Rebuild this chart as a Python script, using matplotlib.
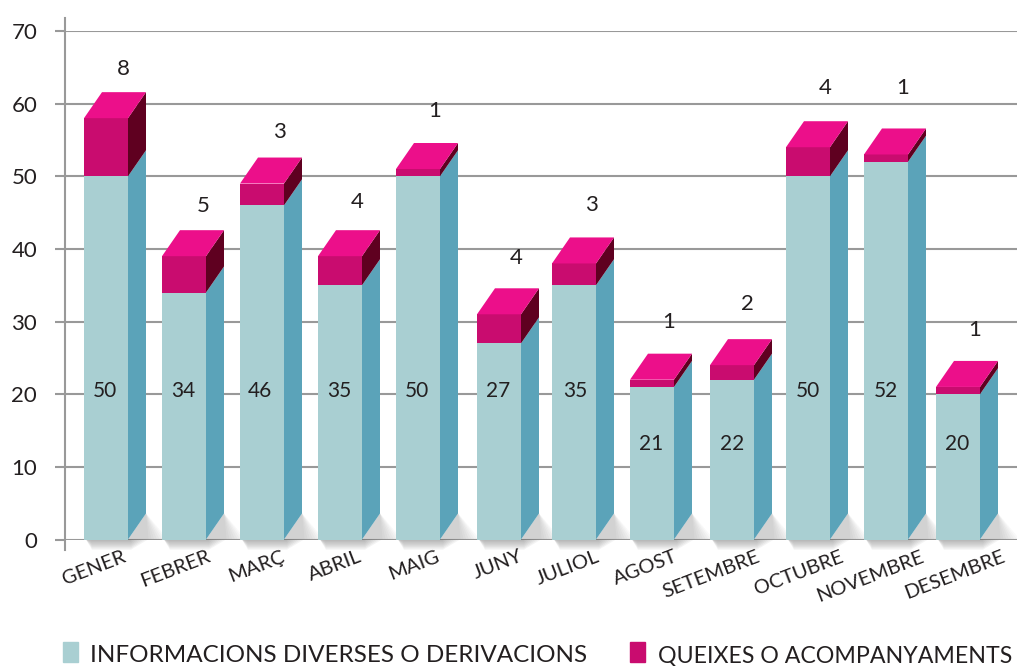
"""Monthly stacked 3D-look columns: informacions vs queixes."""

import matplotlib

matplotlib.use("Agg")

import matplotlib.pyplot as plt
from matplotlib.patches import Rectangle

months = ["GENER", "FEBRER", "MARÇ", "ABRIL", "MAIG", "JUNY", "JULIOL", "AGOST",
          "SETEMBRE", "OCTUBRE", "NOVEMBRE", "DESEMBRE"]
info = [50, 34, 46, 35, 50, 27, 35, 21, 22, 50, 52, 20]
queixes = [8, 5, 3, 4, 1, 4, 3, 1, 2, 4, 1, 1]
legend_labels = ["INFORMACIONS DIVERSES O DERIVACIONS", "QUEIXES O ACOMPANYAMENTS"]
y_ticks = [0, 10, 20, 30, 40, 50, 60, 70]

# layout, x in image pixels
bar_left = [84, 162, 240, 318, 396, 477, 552, 630, 710, 786, 864, 936]
month_x = [94, 175, 257, 335, 414, 498, 568, 645, 711, 799, 870, 955]
info_label_x = [105, 183, 260, 339, 417, 498, 575, 651, 732, 808, 886, 957]
info_label_y = [20.4, 20.4, 20.4, 20.4, 20.4, 20.4, 20.4, 13.2, 13.2, 20.4, 20.4, 13.2]
queixes_label_x = [123, 203, 279, 357, 435, 516, 591, 669, 747, 825, 903, 975]
queixes_label_y = [64.8, 45.9, 56.1, 46.4, 59.0, 38.7, 46.1, 30.0, 32.4, 62.2, 62.2, 28.8]

BAR_W = 44
DEPTH_X = 18
DEPTH_Y = 26 / 7.26

TEAL = "#a9cfd2"
TEAL_SIDE = "#5ba3b9"
PINK = "#c90c6f"
PINK_TOP = "#ec0f8a"
PINK_SIDE = "#5f0020"
INK = "#231f20"
GRID = "#999999"

plt.rcParams["font.family"] = ["Lato", "DejaVu Sans"]

fig = plt.figure(figsize=(10.17, 6.66), dpi=100)
ax = fig.add_axes([65 / 1017, (666 - 539.5) / 666, (1017 - 65) / 1017, 508.5 / 666])
ax.set_xlim(65, 1017)
ax.set_ylim(0, 70)
for side in ["top", "right", "left", "bottom"]:
    ax.spines[side].set_visible(False)

ax.set_yticks(y_ticks)
ax.grid(axis="y", color=GRID, lw=1.5, zorder=0)
ax.set_axisbelow(True)
ax.tick_params(axis="y", length=7, width=1.5, color=GRID, labelsize=16, labelcolor=INK, pad=13)
ax.set_xticks(month_x, months, rotation=21, ha="center", va="top")
ax.tick_params(axis="x", length=0, labelsize=14.6, labelcolor=INK, pad=6)
ax.plot([65, 65], [-1.5, 71.8], color=GRID, lw=1.5, clip_on=False, zorder=1)

for left, a, b, xl, yl, xq, yq in zip(bar_left, info, queixes, info_label_x, info_label_y,
                                      queixes_label_x, queixes_label_y):
    right = left + BAR_W
    total = a + b
    # soft floor shadows
    for k in range(8):
        f = (k + 1) / 8
        ax.fill([right, right + DEPTH_X, right + DEPTH_X + 22 * f],
                [0, DEPTH_Y, 0], color="#666666", alpha=0.04, lw=0, zorder=1.5)
        ax.fill([left + 2, right + 20 * f, right + 3, left + 8],
                [0, 0, -1.4 * f, -1.4 * f], color="#666666", alpha=0.07, lw=0,
                zorder=1.5, clip_on=False)
    ax.bar(left, a, width=BAR_W, align="edge", color=TEAL, zorder=3)
    ax.bar(left, b, bottom=a, width=BAR_W, align="edge", color=PINK, zorder=3)
    ax.fill([right, right + DEPTH_X, right + DEPTH_X, right],
            [0, DEPTH_Y, a + DEPTH_Y, a], color=TEAL_SIDE, lw=0, zorder=3)
    ax.fill([right, right + DEPTH_X, right + DEPTH_X, right],
            [a, a + DEPTH_Y, total + DEPTH_Y, total], color=PINK_SIDE, lw=0, zorder=3)
    ax.fill([left, left + DEPTH_X, right + DEPTH_X, right],
            [total, total + DEPTH_Y, total + DEPTH_Y, total], color=PINK_TOP, lw=0, zorder=3)
    ax.text(xl, yl, str(a), ha="center", va="center", fontsize=15, color=INK, zorder=4)
    ax.text(xq, yq, str(b), ha="center", va="center", fontsize=16, color=INK, zorder=4)

fig.add_artist(Rectangle((63 / 1017, 4 / 666), 15 / 1017, 20 / 666, color=TEAL,
                         transform=fig.transFigure))
fig.add_artist(Rectangle((630 / 1017, 4 / 666), 15 / 1017, 20 / 666, color=PINK,
                         transform=fig.transFigure))
fig.text(90 / 1017, 4 / 666, legend_labels[0], fontsize=17.5, color=INK, ha="left", va="baseline")
fig.text(658 / 1017, 4 / 666, legend_labels[1], fontsize=16.7, color=INK, ha="left", va="baseline")

fig.savefig("out.png", dpi=100)
